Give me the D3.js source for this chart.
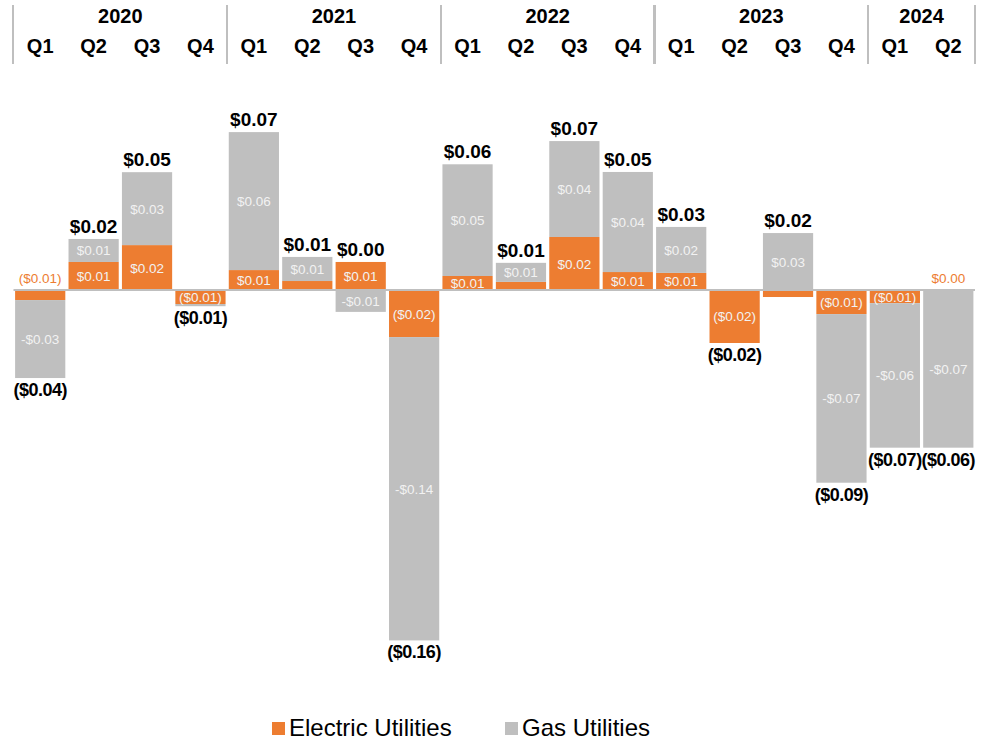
<!DOCTYPE html>
<html>
<head>
<meta charset="utf-8">
<script src="https://cdn.jsdelivr.net/npm/d3@7"></script>
<style>
  body { margin: 0; background: #fff; }
  svg { font-family: "Liberation Sans", Arial, sans-serif; }
</style>
</head>
<body>
<svg id="svg" width="986" height="740"></svg>
<script>
// data
var years = ["2020","2021","2022","2023","2024"];
var quarters = ["Q1","Q2","Q3","Q4","Q1","Q2","Q3","Q4","Q1","Q2","Q3","Q4","Q1","Q2","Q3","Q4","Q1","Q2"];
var quarterYear = ["2020","2020","2020","2020","2021","2021","2021","2021","2022","2022","2022","2022","2023","2023","2023","2023","2024","2024"];
var electric = [-0.0046, 0.0128, 0.0205, -0.0064, 0.0091, 0.0041, 0.0128, -0.0215, 0.0064, 0.0037, 0.0242, 0.0082, 0.0078, -0.0242, -0.0032, -0.011, -0.006, 0];
var gas = [-0.0356, 0.0105, 0.0333, -0.001, 0.063, 0.011, -0.010, -0.1385, 0.051, 0.0087, 0.0438, 0.0457, 0.021, 0, 0.026, -0.077, -0.066, -0.072];
var electricLabels = ["($0.01)","$0.01","$0.02","($0.01)","$0.01","","$0.01","($0.02)","$0.01","","$0.02","$0.01","$0.01","($0.02)","","($0.01)","($0.01)","$0.00"];
var gasLabels = ["-$0.03","$0.01","$0.03","","$0.06","$0.01","-$0.01","-$0.14","$0.05","$0.01","$0.04","$0.04","$0.02","","$0.03","-$0.07","-$0.06","-$0.07"];
var totalLabels = ["($0.04)","$0.02","$0.05","($0.01)","$0.07","$0.01","$0.00","($0.16)","$0.06","$0.01","$0.07","$0.05","$0.03","($0.02)","$0.02","($0.09)","($0.07)","($0.06)"];
var seriesNames = ["Electric Utilities","Gas Utilities"];

var colors = {elec:"#ED7D31", gas:"#BFBFBF"};

var svg = d3.select("#svg");

var rows = quarters.map(function(q,i){
  return {i:i, q:q, year:quarterYear[i], elec:electric[i], gas:gas[i]};
});

var xScale = d3.scaleBand()
  .domain(d3.range(quarters.length))
  .range([13.5, 975])
  .paddingInner(0.06)
  .paddingOuter(0.03);

var yScale = d3.scaleLinear()
  .domain([-0.2, 0.1])
  .range([728, 71]);

var stack = d3.stack().keys(["elec","gas"]).offset(d3.stackOffsetDiverging);
var layers = stack(rows);

// bars
var barGrp = svg.append("g");
layers.forEach(function(layer){
  barGrp.selectAll(null).data(layer).enter()
    .append("rect")
    .attr("x", function(d,i){ return xScale(i); })
    .attr("width", xScale.bandwidth())
    .attr("y", function(d){ return yScale(Math.max(d[0],d[1])); })
    .attr("height", function(d){ return Math.abs(yScale(d[0]) - yScale(d[1])); })
    .attr("fill", colors[layer.key]);
});

// zero line
svg.append("line")
  .attr("x1", 13.5).attr("x2", 975)
  .attr("y1", yScale(0)).attr("y2", yScale(0))
  .attr("stroke", "#BFBFBF").attr("stroke-width", 2);

// segment labels
var labelGrp = svg.append("g").attr("font-size", 13.5).attr("text-anchor", "middle");
layers.forEach(function(layer){
  var labels = layer.key == "elec" ? electricLabels : gasLabels;
  layer.forEach(function(d,i){
    if (!labels[i]) return;
    var y0 = yScale(d[0]), y1 = yScale(d[1]);
    var h = Math.abs(y1 - y0);
    var cx = xScale(i) + xScale.bandwidth()/2;
    if (h < 11) {
      labelGrp.append("text")
        .attr("x", cx).attr("y", yScale(0) - 7)
        .attr("fill", colors.elec)
        .text(labels[i]);
    } else {
      labelGrp.append("text")
        .attr("x", cx).attr("y", (y0 + y1)/2 + 5)
        .attr("fill", "#F2F2F2")
        .text(labels[i]);
    }
  });
});

// totals
var totGrp = svg.append("g").attr("font-weight", "bold").attr("text-anchor", "middle");
rows.forEach(function(r,i){
  var pos = (r.elec > 0 ? r.elec : 0) + (r.gas > 0 ? r.gas : 0);
  var neg = (r.elec < 0 ? r.elec : 0) + (r.gas < 0 ? r.gas : 0);
  var cx = xScale(i) + xScale.bandwidth()/2;
  var isNeg = totalLabels[i].charAt(0) == "(";
  totGrp.append("text")
    .attr("x", cx)
    .attr("y", isNeg ? yScale(neg) + 18 : yScale(pos) - 6)
    .attr("font-size", isNeg ? 18 : 19)
    .attr("letter-spacing", isNeg ? -0.5 : 0)
    .attr("fill", "#000")
    .text(totalLabels[i]);
});

// header: quarters and years
var head = svg.append("g").attr("font-weight", "bold").attr("font-size", 20).attr("text-anchor", "middle");
head.selectAll(".q").data(rows).enter()
  .append("text")
  .attr("x", function(d){ return xScale(d.i) + xScale.bandwidth()/2; })
  .attr("y", 53)
  .text(function(d){ return d.q; });

var bounds = [];
years.forEach(function(y){
  var idx = rows.filter(function(r){ return r.year == y; }).map(function(r){ return r.i; });
  var left = xScale(d3.min(idx)) - xScale.step()*xScale.paddingInner()/2;
  var right = xScale(d3.max(idx)) + xScale.bandwidth() + xScale.step()*xScale.paddingInner()/2;
  bounds.push(left, right);
  head.append("text").attr("x", (left+right)/2).attr("y", 23).text(y);
});
svg.append("g").selectAll("line").data(d3.union(bounds.map(function(b){return Math.round(b);}))).enter()
  .append("line")
  .attr("x1", function(d){ return d; }).attr("x2", function(d){ return d; })
  .attr("y1", 5).attr("y2", 64)
  .attr("stroke", "#BFBFBF").attr("stroke-width", 2);

// legend
var legend = svg.append("g").attr("font-size", 24);
var legX = [272, 505];
seriesNames.forEach(function(n,i){
  legend.append("rect").attr("x", legX[i]).attr("y", 722).attr("width", 13).attr("height", 13)
    .attr("fill", i == 0 ? colors.elec : colors.gas);
  legend.append("text").attr("x", legX[i] + 17).attr("y", 736).attr("fill", "#000").text(n);
});
</script>
</body>
</html>
